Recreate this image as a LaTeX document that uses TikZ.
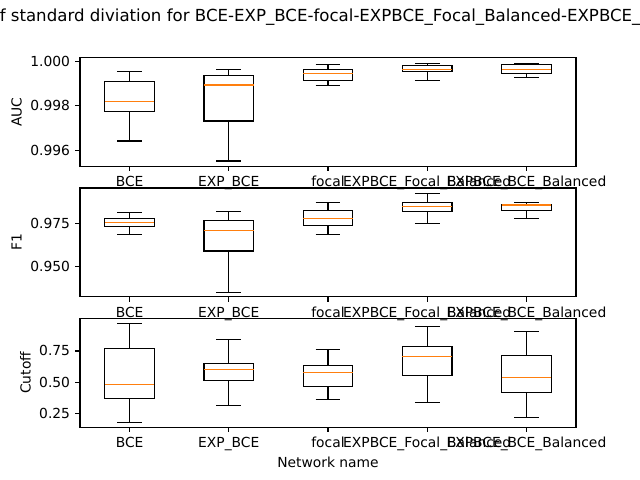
\documentclass[tikz,border=0pt]{standalone}
\usepackage{fontspec}
\setmainfont{DejaVu Sans}
\definecolor{mplorange}{HTML}{FF7F0E}
\tikzset{
  boxline/.style={draw=black, line width=1pt},
  medline/.style={draw=mplorange, line width=1pt},
  spine/.style={draw=black, line width=0.8pt},
  tickmark/.style={draw=black, line width=0.8pt},
  ticklab/.style={inner sep=0pt, font=\fontsize{10}{12}\selectfont},
  axlab/.style={inner sep=0pt, font=\fontsize{10}{12}\selectfont},
}
\newcommand{\mybox}[6]{%
  \draw[boxline] (#1-24.8,#3) rectangle (#1+24.8,#5);
  \draw[boxline] (#1,#3) -- (#1,#2);
  \draw[boxline] (#1-12.4,#2) -- (#1+12.4,#2);
  \draw[boxline] (#1,#5) -- (#1,#6);
  \draw[boxline] (#1-12.4,#6) -- (#1+12.4,#6);
  \draw[medline] (#1-24.8,#4) -- (#1+24.8,#4);
}
\newcommand{\xlabs}[1]{%
  \foreach \xx/\lab in {129.6/BCE, 228.8/EXP\_BCE, 328/focal, 427.2/EXPBCE\_Focal\_Balanced, 526.4/EXPBCE\_BCE\_Balanced}{
    \draw[tickmark] (\xx,#1) -- (\xx,#1+4.86);
    \node[ticklab, anchor=base] at (\xx,#1+20.6) {\lab};
  }
}
\begin{document}
\begin{tikzpicture}[x=0.01in, y=-0.01in]
\useasboundingbox (0,0) rectangle (640,480);
\fill[white] (0,0) rectangle (640,480);

% title
\node[inner sep=0pt, anchor=base west, font=\fontsize{12}{14}\selectfont] (title) at (-0.5,21.7) {f standard diviation for BCE-EXP\_BCE-focal-EXPBCE\_Focal\_Balanced-EXPBCE\_};

% ---------- AUC ----------
\mybox{129.6}{71.3}{81.3}{101.3}{111.3}{141.0}
\mybox{228.8}{69.3}{75.3}{85.0}{121.0}{161.0}
\mybox{328.0}{64.3}{69.3}{73.3}{80.3}{85.3}
\mybox{427.2}{63.3}{65.3}{69.5}{71.3}{80.3}
\mybox{526.4}{63.3}{64.7}{69.3}{73.3}{77.3}
\draw[spine] (80,57.6) rectangle (576,166.3);
\xlabs{166.3}
\foreach \yy/\lab in {61.7/1.000, 105.9/0.998, 150.1/0.996}{
  \draw[tickmark] (80,\yy) -- (75.14,\yy);
  \node[ticklab, anchor=base east] at (70.3,\yy+5.0) {\lab};
}
\node[axlab, rotate=90, anchor=base] (auc) at (21.7,112.0) {AUC};

% ---------- F1 ----------
\mybox{129.6}{212.3}{218.3}{222.7}{226.3}{234.3}
\mybox{228.8}{211.3}{220.3}{230.3}{251.0}{292.3}
\mybox{328.0}{202.3}{210.3}{218.3}{225.3}{234.3}
\mybox{427.2}{193.3}{202.3}{206.3}{211.3}{223.3}
\mybox{526.4}{202.3}{204.3}{205.0}{210.3}{218.3}
\draw[spine] (80,188.0) rectangle (576,296.8);
\xlabs{296.8}
\foreach \yy/\lab in {223.3/0.975, 266.3/0.950}{
  \draw[tickmark] (80,\yy) -- (75.14,\yy);
  \node[ticklab, anchor=base east] at (70.3,\yy+5.0) {\lab};
}
\node[axlab, rotate=90, anchor=base] (f1) at (21.7,242.4) {F1};

% ---------- Cutoff ----------
\mybox{129.6}{323.3}{348.3}{384.3}{398.3}{422.3}
\mybox{228.8}{339.3}{363.3}{369.3}{380.3}{405.3}
\mybox{328.0}{349.3}{365.3}{372.3}{386.3}{399.3}
\mybox{427.2}{326.3}{346.3}{356.3}{375.3}{402.3}
\mybox{526.4}{331.3}{355.3}{377.3}{392.3}{417.3}
\draw[spine] (80,318.5) rectangle (576,427.2);
\xlabs{427.2}
\foreach \yy/\lab in {351.0/0.75, 382.1/0.50, 413.3/0.25}{
  \draw[tickmark] (80,\yy) -- (75.14,\yy);
  \node[ticklab, anchor=base east] at (70.3,\yy+5.0) {\lab};
}
\node[axlab, rotate=90, anchor=base] (cutoff) at (30.5,372.9) {Cutoff};
\node[axlab, anchor=base] (netname) at (328,467.3) {Network name};
\end{tikzpicture}
\end{document}
